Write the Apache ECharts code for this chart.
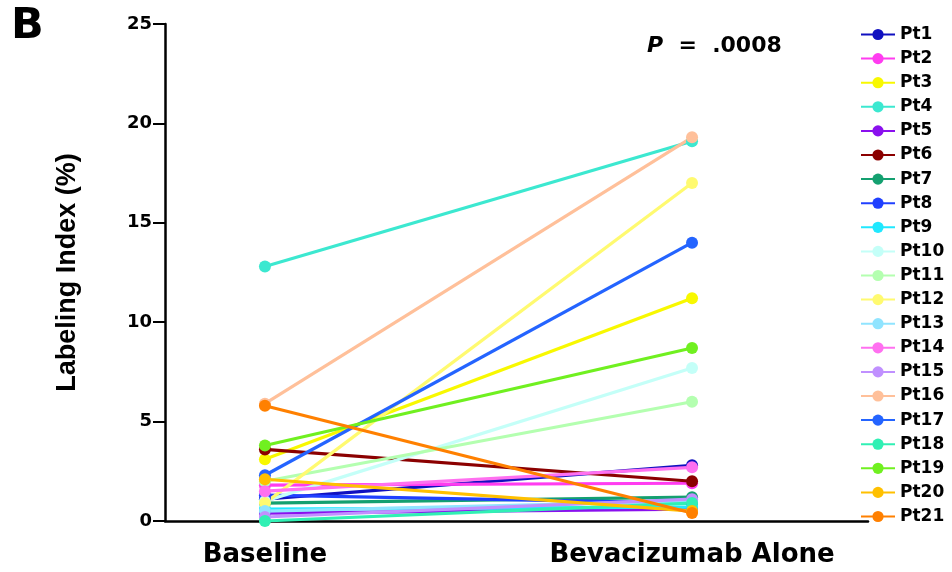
<!DOCTYPE html>
<html><head><meta charset="utf-8">
<script src="https://cdn.jsdelivr.net/npm/echarts@6/dist/echarts.min.js"></script>
<style>html,body{margin:0;padding:0;background:#fff}#c{width:952px;height:572px}</style>
</head><body><div id="c"></div>
<script>
const categories = ['Baseline', 'Bevacizumab Alone'];
const yTicks = [0, 5, 10, 15, 20, 25];
const patients = ['Pt1','Pt2','Pt3','Pt4','Pt5','Pt6','Pt7','Pt8','Pt9','Pt10','Pt11','Pt12','Pt13','Pt14','Pt15','Pt16','Pt17','Pt18','Pt19','Pt20','Pt21'];
const pt1 = [1.1, 2.8];
const pt2 = [1.8, 1.9];
const pt3 = [3.1, 11.2];
const pt4 = [12.8, 19.1];
const pt5 = [0.4, 0.6];
const pt6 = [3.6, 2.0];
const pt7 = [0.9, 1.2];
const pt8 = [1.3, 0.9];
const pt9 = [0.6, 0.7];
const pt10 = [1.0, 7.7];
const pt11 = [2.0, 6.0];
const pt12 = [0.9, 17.0];
const pt13 = [0.5, 1.0];
const pt14 = [1.5, 2.7];
const pt15 = [0.2, 1.1];
const pt16 = [5.9, 19.3];
const pt17 = [2.3, 14.0];
const pt18 = [0.0, 0.9];
const pt19 = [3.8, 8.7];
const pt20 = [2.1, 0.5];
const pt21 = [5.8, 0.4];
const values = [pt1,pt2,pt3,pt4,pt5,pt6,pt7,pt8,pt9,pt10,pt11,pt12,pt13,pt14,pt15,pt16,pt17,pt18,pt19,pt20,pt21];
const colors = ['#1010c0','#ff3cf0','#f8f800','#3ce8d0','#8a10ee','#8b0000','#14a070','#2040ff','#20e8ff','#c4fff8','#b4ffb0','#fffa70','#90e4ff','#ff70f0','#c090ff','#ffc09a','#2464ff','#30f0b4','#70f020','#ffc000','#ff8000'];

const chart = echarts.init(document.getElementById('c'), null, {renderer: 'canvas'});
const series = patients.map((name, i) => ({
  name, type: 'line', color: colors[i],
  data: values[i].map((v, j) => [j, v]),
  symbol: 'circle', symbolSize: 12,
  lineStyle: {width: 3.2, color: colors[i]},
  itemStyle: {color: colors[i]},
  emphasis: {disabled: true}, animation: false
}));
chart.setOption({
  animation: false,
  grid: {left: 165, right: 84, top: 24, bottom: 51},
  xAxis: {
    type: 'value', min: -0.234, max: 1.412,
    splitLine: {show: false},
    axisLine: {onZero: false, lineStyle: {color: '#000', width: 2.5}},
    axisTick: {show: false},
    axisLabel: {customValues: [0, 1], formatter: v => categories[Math.round(v)] || '',
      margin: 21, fontSize: 26, fontWeight: 'bold', color: '#000',
      fontFamily: '"DejaVu Sans", sans-serif'}
  },
  yAxis: {
    type: 'value', min: 0, max: 25, interval: 5,
    name: 'Labeling Index (%)', nameLocation: 'middle', nameGap: 84,
    nameTextStyle: {fontSize: 27, fontWeight: 'bold', color: '#000',
      fontFamily: '"Liberation Sans", Arial'},
    splitLine: {show: false},
    axisLine: {show: true, onZero: false, lineStyle: {color: '#000', width: 2.5}},
    axisTick: {show: true, length: 12, lineStyle: {color: '#000', width: 2}},
    axisLabel: {margin: 13, fontSize: 18, fontWeight: 'bold', color: '#000',
      fontFamily: '"DejaVu Sans", sans-serif',
      formatter: v => yTicks.includes(v) ? String(v) : ''}
  },
  legend: {
    orient: 'vertical', left: 855, top: 21,
    itemWidth: 34, itemHeight: 14, itemGap: 7.1,
    textStyle: {fontSize: 17, fontWeight: 'bold', color: '#000', fontFamily: '"DejaVu Sans", sans-serif'},
    data: patients
  },
  graphic: [
    {type: 'text', left: 11, top: 5, style: {text: 'B', fontSize: 43, fontWeight: 'bold', fill: '#000', fontFamily: '"DejaVu Sans", sans-serif'}},
    {type: 'text', left: 647, top: 35, style: {rich: {p: {fontStyle: 'italic', fontWeight: 'bold', fontSize: 22, fill: '#000', fontFamily: '"DejaVu Sans", sans-serif'}, r: {fontSize: 22, fontWeight: 'bold', fill: '#000', fontFamily: '"DejaVu Sans", sans-serif'}}, text: '{p|P}{r|  =  .0008}'}}
  ],
  series
});
</script></body></html>
